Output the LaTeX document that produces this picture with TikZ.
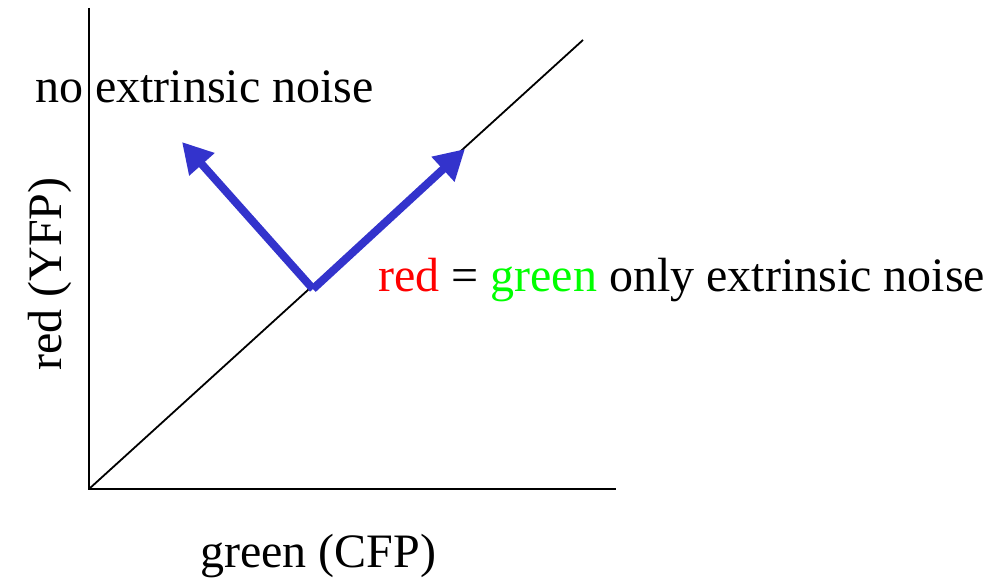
\documentclass[tikz,border=0pt]{standalone}
\usepackage{fontspec}
\setmainfont{Liberation Serif}
\usetikzlibrary{arrows.meta}
\definecolor{arrowblue}{RGB}{51,51,204}
\definecolor{txtred}{RGB}{255,0,0}
\definecolor{txtgreen}{RGB}{0,255,0}
\begin{document}
\begin{tikzpicture}[x=1pt,y=-1pt,
  axis/.style={line width=2.8pt},
  diag/.style={line width=1.8pt},
  vec/.style={arrowblue,line width=8pt,-{Triangle[length=30pt,width=32pt]}},
  lbl/.style={font=\fontsize{48}{56}\selectfont,inner sep=0pt,anchor=base west}]
\useasboundingbox (0,0) rectangle (992,580);
\coordinate (o) at (89,489);
\coordinate (ytop) at (89,8);
\coordinate (xend) at (616,489);
\coordinate (dend) at (583,40);
\coordinate (v0) at (313,289);
\coordinate (vl) at (182,142);
\coordinate (vr) at (465,149);
\draw[axis] (ytop) -- (o) -- (xend);
\draw[diag] (o) -- (dend);
\draw[vec] (v0) -- (vl);
\draw[vec] (v0) -- (vr);
\node[lbl] (t1) at (35,103) {no extrinsic noise};
\node[lbl] (t2) at (378,291) {\textcolor{txtred}{red} = \textcolor{txtgreen}{green} only extrinsic noise};
\node[lbl] (t3) at (200,567) {green (CFP)};
\node[lbl,rotate=90] (t4) at (61,371) {red (YFP)};
\end{tikzpicture}
\end{document}
